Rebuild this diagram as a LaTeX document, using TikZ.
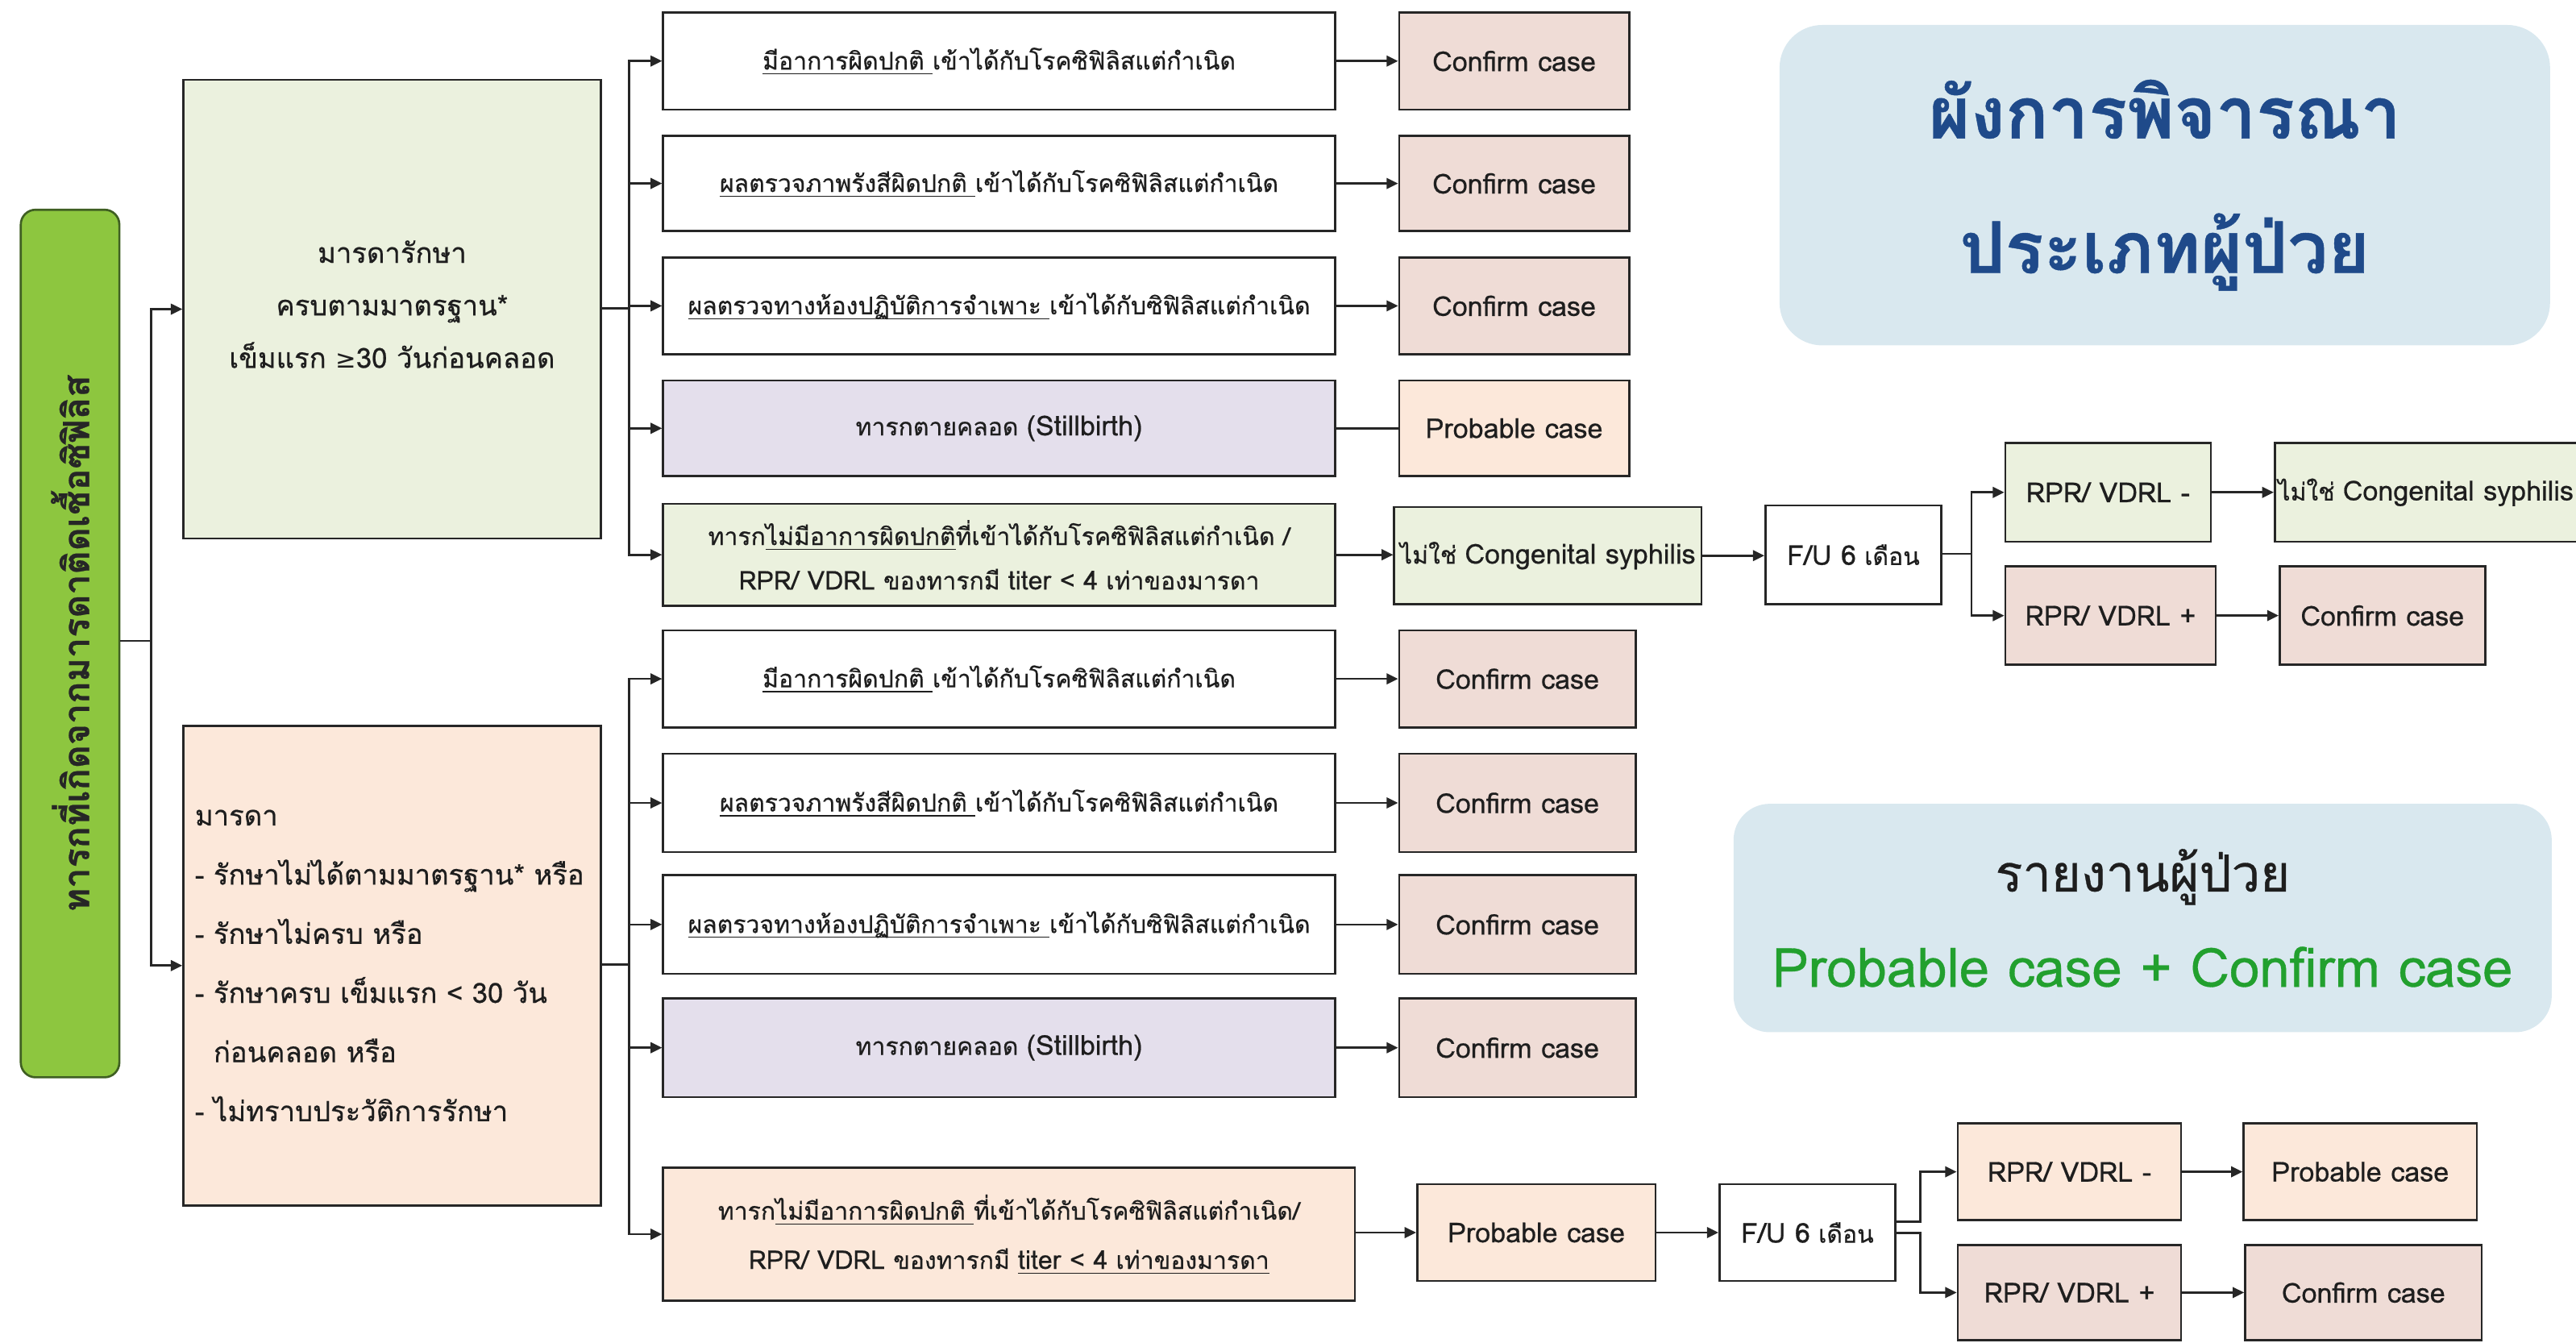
\documentclass[tikz,border=0pt]{standalone}
\usepackage{fontspec}
\usepackage{graphicx}
\setmainfont[Script=Thai, FakeBold=0.5]{Loma}
\newfontfamily\lat[Scale=1.13, FakeBold=0.5]{Loma}
\newfontfamily\latb[Scale=1.06, FakeBold=0.5]{Loma}
\newfontfamily\djv{DejaVu Sans}
\usetikzlibrary{arrows.meta}
\definecolor{txt}{HTML}{1E1E1E}
\definecolor{gfill}{HTML}{EBF1DE}
\definecolor{pfill}{HTML}{EFDCD6}
\definecolor{ofill}{HTML}{FCE8DA}
\definecolor{vfill}{HTML}{E4DFEC}
\definecolor{bigg}{HTML}{8DC63F}
\definecolor{bigb}{HTML}{3F5F22}
\definecolor{panel}{HTML}{D9E8EF}
\definecolor{navy}{HTML}{1F4A8A}
\definecolor{rgreen}{HTML}{22A02E}
\newcommand\fsz[2]{\fontsize{#1}{#2}\selectfont}
\newcommand\ulx[1]{\setbox0\hbox{#1}\rlap{\rule[-3pt]{\wd0}{0.7pt}}\box0}
\newcommand\mkbox[7]{\node[#6, anchor=north west, minimum width={(#4)-(#2)}, minimum height={(#5)-(#3)}] (#1) at (#2,#3) {#7};}
\tikzset{
  bx/.style={draw=black!85, line width=1.3pt, inner sep=2pt, align=center, text=txt, font=\fsz{14.8}{27}},
  wbox/.style={bx, fill=white},
  gbox/.style={bx, fill=gfill},
  pbox/.style={bx, fill=pfill},
  obox/.style={bx, fill=ofill},
  vbox/.style={bx, fill=vfill},
  conn/.style={line width=1.3pt, draw=black!85},
  arr/.style={conn, -{Triangle[length=7pt,width=6.5pt]}},
}
\begin{document}
\begin{tikzpicture}[x=1pt,y=-1pt]
\useasboundingbox (0,0) rectangle (1568,817);
% root
\node[draw=bigb, line width=1.3pt, fill=bigg, rounded corners=9pt, anchor=north west,
  minimum width=60, minimum height=528, inner sep=0pt] (G) at (12,127)
  {\rotatebox{90}{\fsz{22}{24}\bfseries\color{black!85}ทารกที่เกิดจากมารดาติดเชื้อซิฟิลิส}};
% main boxes
\mkbox{A}{111}{48}{365}{327}{gbox, font=\fsz{17}{32}, text depth=6pt}{มารดารักษา\\ครบตามมาตรฐาน*\\เข็มแรก {\djv\fsz{15}{32}≥}30 วันก่อนคลอด}
\mkbox{B}{111}{441}{365}{733}{obox, align=left, font=\fsz{17}{36}, text width=240}{มารดา\\- รักษาไม่ได้ตามมาตรฐาน* หรือ\\- รักษาไม่ครบ หรือ\\- รักษาครบ เข็มแรก < 30 วัน\\\hphantom{- }ก่อนคลอด หรือ\\- ไม่ทราบประวัติการรักษา}
% top group
\mkbox{T1}{403}{7}{812}{66}{wbox}{\ulx{มีอาการผิดปกติ }เข้าได้กับโรคซิฟิลิสแต่กำเนิด}
\mkbox{T2}{403}{82}{812}{140}{wbox}{\ulx{ผลตรวจภาพรังสีผิดปกติ }เข้าได้กับโรคซิฟิลิสแต่กำเนิด}
\mkbox{T3}{403}{156}{812}{215}{wbox}{\ulx{ผลตรวจทางห้องปฏิบัติการจำเพาะ }เข้าได้กับซิฟิลิสแต่กำเนิด}
\mkbox{T4}{403}{231}{812}{289}{vbox}{ทารกตายคลอด {\lat(Stillbirth)}}
\mkbox{T5}{403}{306}{812}{368}{gbox}{ทารก\ulx{ไม่มีอาการผิดปกติ}ที่เข้าได้กับโรคซิฟิลิสแต่กำเนิด /\\{\latb RPR/ VDRL} ของทารกมี {\latb titer < 4} เท่าของมารดา}
\mkbox{R1}{851}{7}{991}{66}{pbox}{\lat Confirm case}
\mkbox{R2}{851}{82}{991}{140}{pbox}{\lat Confirm case}
\mkbox{R3}{851}{156}{991}{215}{pbox}{\lat Confirm case}
\mkbox{R4}{851}{231}{991}{289}{obox}{\lat Probable case}
\mkbox{N1}{848}{308}{1035}{367}{gbox}{ไม่ใช่ {\lat Congenital syphilis}}
\mkbox{F1}{1074}{307}{1181}{367}{wbox}{{\lat F/U 6} เดือน}
\mkbox{M1}{1220}{269}{1345}{329}{gbox}{\lat RPR/ VDRL -}
\mkbox{P1}{1220}{344}{1348}{404}{pbox}{\lat RPR/ VDRL +}
\mkbox{N2}{1384}{269}{1600}{329}{gbox}{ไม่ใช่ {\lat Congenital syphilis}\hspace*{34pt}}
\mkbox{C1}{1387}{344}{1512}{404}{pbox}{\lat Confirm case}
% bottom group
\mkbox{U1}{403}{383}{812}{442}{wbox}{\ulx{มีอาการผิดปกติ }เข้าได้กับโรคซิฟิลิสแต่กำเนิด}
\mkbox{U2}{403}{458}{812}{518}{wbox}{\ulx{ผลตรวจภาพรังสีผิดปกติ }เข้าได้กับโรคซิฟิลิสแต่กำเนิด}
\mkbox{U3}{403}{532}{812}{592}{wbox}{\ulx{ผลตรวจทางห้องปฏิบัติการจำเพาะ }เข้าได้กับซิฟิลิสแต่กำเนิด}
\mkbox{U4}{403}{607}{812}{667}{vbox}{ทารกตายคลอด {\lat(Stillbirth)}}
\mkbox{U5}{403}{710}{824}{791}{obox, font=\fsz{14.8}{30}}{ทารก\ulx{ไม่มีอาการผิดปกติ }ที่เข้าได้กับโรคซิฟิลิสแต่กำเนิด/\\{\latb RPR/ VDRL} ของทารกมี \ulx{{\latb titer < 4} เท่าของมารดา}}
\mkbox{S1}{851}{383}{995}{442}{pbox}{\lat Confirm case}
\mkbox{S2}{851}{458}{995}{518}{pbox}{\lat Confirm case}
\mkbox{S3}{851}{532}{995}{592}{pbox}{\lat Confirm case}
\mkbox{S4}{851}{607}{995}{667}{pbox}{\lat Confirm case}
\mkbox{Q1}{862}{720}{1007}{779}{obox}{\lat Probable case}
\mkbox{F2}{1046}{720}{1153}{779}{wbox}{{\lat F/U 6} เดือน}
\mkbox{M2}{1191}{683}{1327}{742}{obox}{\lat RPR/ VDRL -}
\mkbox{P2}{1191}{757}{1327}{815}{pbox}{\lat RPR/ VDRL +}
\mkbox{Q2}{1365}{683}{1507}{742}{obox}{\lat Probable case}
\mkbox{C2}{1366}{757}{1510}{815}{pbox}{\lat Confirm case}
% panels
\node[fill=panel, rounded corners=26pt, anchor=north west, minimum width=469, minimum height=195,
  align=center, text=navy, font=\fsz{43.5}{82}\bfseries] (H) at (1083,15) {ผังการพิจารณา\\ประเภทผู้ป่วย};
\node[fill=panel, rounded corners=22pt, anchor=north west, minimum width=498, minimum height=139,
  align=center, font=\fsz{31}{58}] (K) at (1055,489) {{\color{txt}รายงานผู้ป่วย}\\{\fsz{33}{58}\color{rgreen}Probable case + Confirm case}};
% connectors root
\coordinate (j0) at (92,390);
\draw[conn] (G.east |- j0) -- (j0);
\draw[arr] (j0) |- (A.west);
\draw[arr] (j0) |- (B.west);
% top fan
\coordinate (jA) at (383,187.5);
\draw[conn] (A.east |- jA) -- (jA);
\foreach \n in {T1,T2,T3,T4,T5} \draw[arr] (jA) |- (\n.west);
\foreach \a/\b in {T1/R1,T2/R2,T3/R3} \draw[arr] (\a.east) -- (\b.west);
\draw[conn] (T4.east) -- (R4.west);
\draw[arr] (T5.east) -- (T5.east -| N1.west);
\draw[arr] (N1.east) -- (N1.east -| F1.west);
\coordinate (jF) at (1200,337);
\draw[conn] (F1.east |- jF) -- (jF);
\draw[arr] (jF) |- (M1.west);
\draw[arr] (jF) |- (P1.west);
\draw[arr] (M1.east) -- (M1.east -| N2.west);
\draw[arr] (P1.east) -- (P1.east -| C1.west);
% bottom fan
\coordinate (jB) at (383,587);
\draw[conn] (B.east |- jB) -- (jB);
\foreach \n in {U1,U2,U3,U4,U5} \draw[arr] (jB) |- (\n.west);
\foreach \a/\b in {U1/S1,U2/S2,U3/S3,U4/S4} \draw[arr] (\a.east) -- (\b.west);
\draw[arr] (U5.east |- Q1.west) -- (Q1.west);
\draw[arr] (Q1.east) -- (Q1.east -| F2.west);
\coordinate (jG1) at (1169,743.5);
\coordinate (jG2) at (1169,750.5);
\draw[arr] (F2.east |- jG1) -- (jG1) |- (M2.west);
\draw[arr] (F2.east |- jG2) -- (jG2) |- (P2.west);
\draw[arr] (M2.east) -- (M2.east -| Q2.west);
\draw[arr] (P2.east) -- (P2.east -| C2.west);
\end{tikzpicture}
\end{document}
